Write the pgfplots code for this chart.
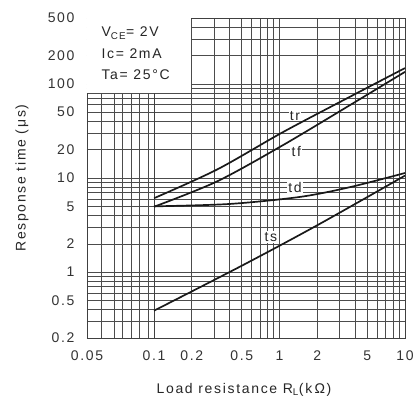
\documentclass[border=0pt]{standalone}
\usepackage{fontspec}
\setmainfont[LetterSpace=12]{Liberation Sans}
\usepackage{pgfplots}
\pgfplotsset{compat=1.18}
\pgfplotsset{
  rtstyle/.style={
    scale only axis, height=320bp,
    ymin=0.2, ymax=500,
    ytick={0.2,0.5,1,2,5,10,20,50,100,200,500},
    minor ytick={0.3,0.4,0.6,0.7,0.8,0.9,3,4,6,7,8,9,30,40,60,70,80,90,300,400},
    grid=both,
    major grid style={black!70, line width=0.6pt},
    minor grid style={black!70, line width=0.6pt},
    axis line style={black!75, line width=0.65pt},
    major tick length=0pt, minor tick length=0pt,
    /pgf/number format/assume math mode=true,
    tick label style={text=black!80},
    xticklabel style={yshift=-9bp},
    yticklabel style={xshift=-9bp},
    clip=true,
  },
  curve/.style={smooth, black!90, line width=1.7pt},
}
\begin{document}
\begin{tikzpicture}[font=\fontsize{14bp}{17bp}\selectfont]
\useasboundingbox (-87bp,-65bp) rectangle (327bp,338bp);
% left stretched segment 0.05 .. 0.1
\begin{axis}[xmode=log, ymode=log, rtstyle, name=leftax,
  at={(0,0)}, anchor=south west, width=67bp,
  xmin=0.05, xmax=0.1,
  xtick={0.05}, xticklabels={0.05},
  minor xtick={0.058,0.066,0.072,0.079,0.086,0.094},
  yticklabels={0.2,0.5,1,2,5,10,20,50,100,200,500},
]
\addplot[draw=none] coordinates {(0.05,1)(0.1,1)};
\end{axis}
% main segment 0.1 .. 10
\begin{axis}[xmode=log, ymode=log, rtstyle, name=mainax,
  at={(67bp,0)}, anchor=south west, width=251bp,
  xmin=0.1, xmax=10,
  xtick={0.1,0.2,0.5,1,2,5,10}, xticklabels={0.1,0.2,0.5,1,2,5,10},
  minor xtick={0.3,0.4,0.6,0.7,0.8,0.9,3,4,6,7,8,9},
  yticklabels={},
]
% tr
\addplot[curve] coordinates {
 (0.1,6.1)(0.318,12.3)(1.07,30.8)(3.65,73)(10,147)};
% tf
\addplot[curve] coordinates {
 (0.1,4.95)(0.318,9.2)(1.07,22.4)(3.65,59.5)(10,134)};
% td
\addplot[curve] coordinates {
 (0.1,5.0)(0.4,5.3)(1.46,6.3)(3.65,8.0)(10,11.3)};
% ts
\addplot[curve] coordinates {
 (0.1,0.39)(0.5,1.17)(2,3.15)(10,10.6)};
\node[fill=white, inner sep=1.2bp, text=black!85] at (axis cs:1.33,46) {tr};
\node[fill=white, inner sep=1.2bp, text=black!85] at (axis cs:1.36,18.9) {tf};
\node[fill=white, inner sep=1.2bp, text=black!85] at (axis cs:1.33,8.0) {td};
\node[fill=white, inner sep=1.2bp, text=black!85] at (axis cs:0.855,2.36) {ts};
\coordinate (boxc) at (axis cs:0.2,80);
\end{axis}
% condition box
\fill[white] (0.35bp,319.65bp) rectangle ([xshift=-0.35bp,yshift=0.35bp]boxc);
\node[anchor=base west, text=black!85] at (11bp,301bp) {V\textsubscript{CE}= 2V};
\node[anchor=base west, text=black!85] at (11bp,279bp) {Ic= 2mA};
\node[anchor=base west, text=black!85] at (11bp,258bp) {Ta= 25°C};
% axis titles
\node[text=black!85] at (157bp,-52bp) {Load resistance R\textsubscript{L}(k\,Ω)};
\node[text=black!85, rotate=90] at (-65bp,160bp) {Response time (μs)};
\end{tikzpicture}
\end{document}
